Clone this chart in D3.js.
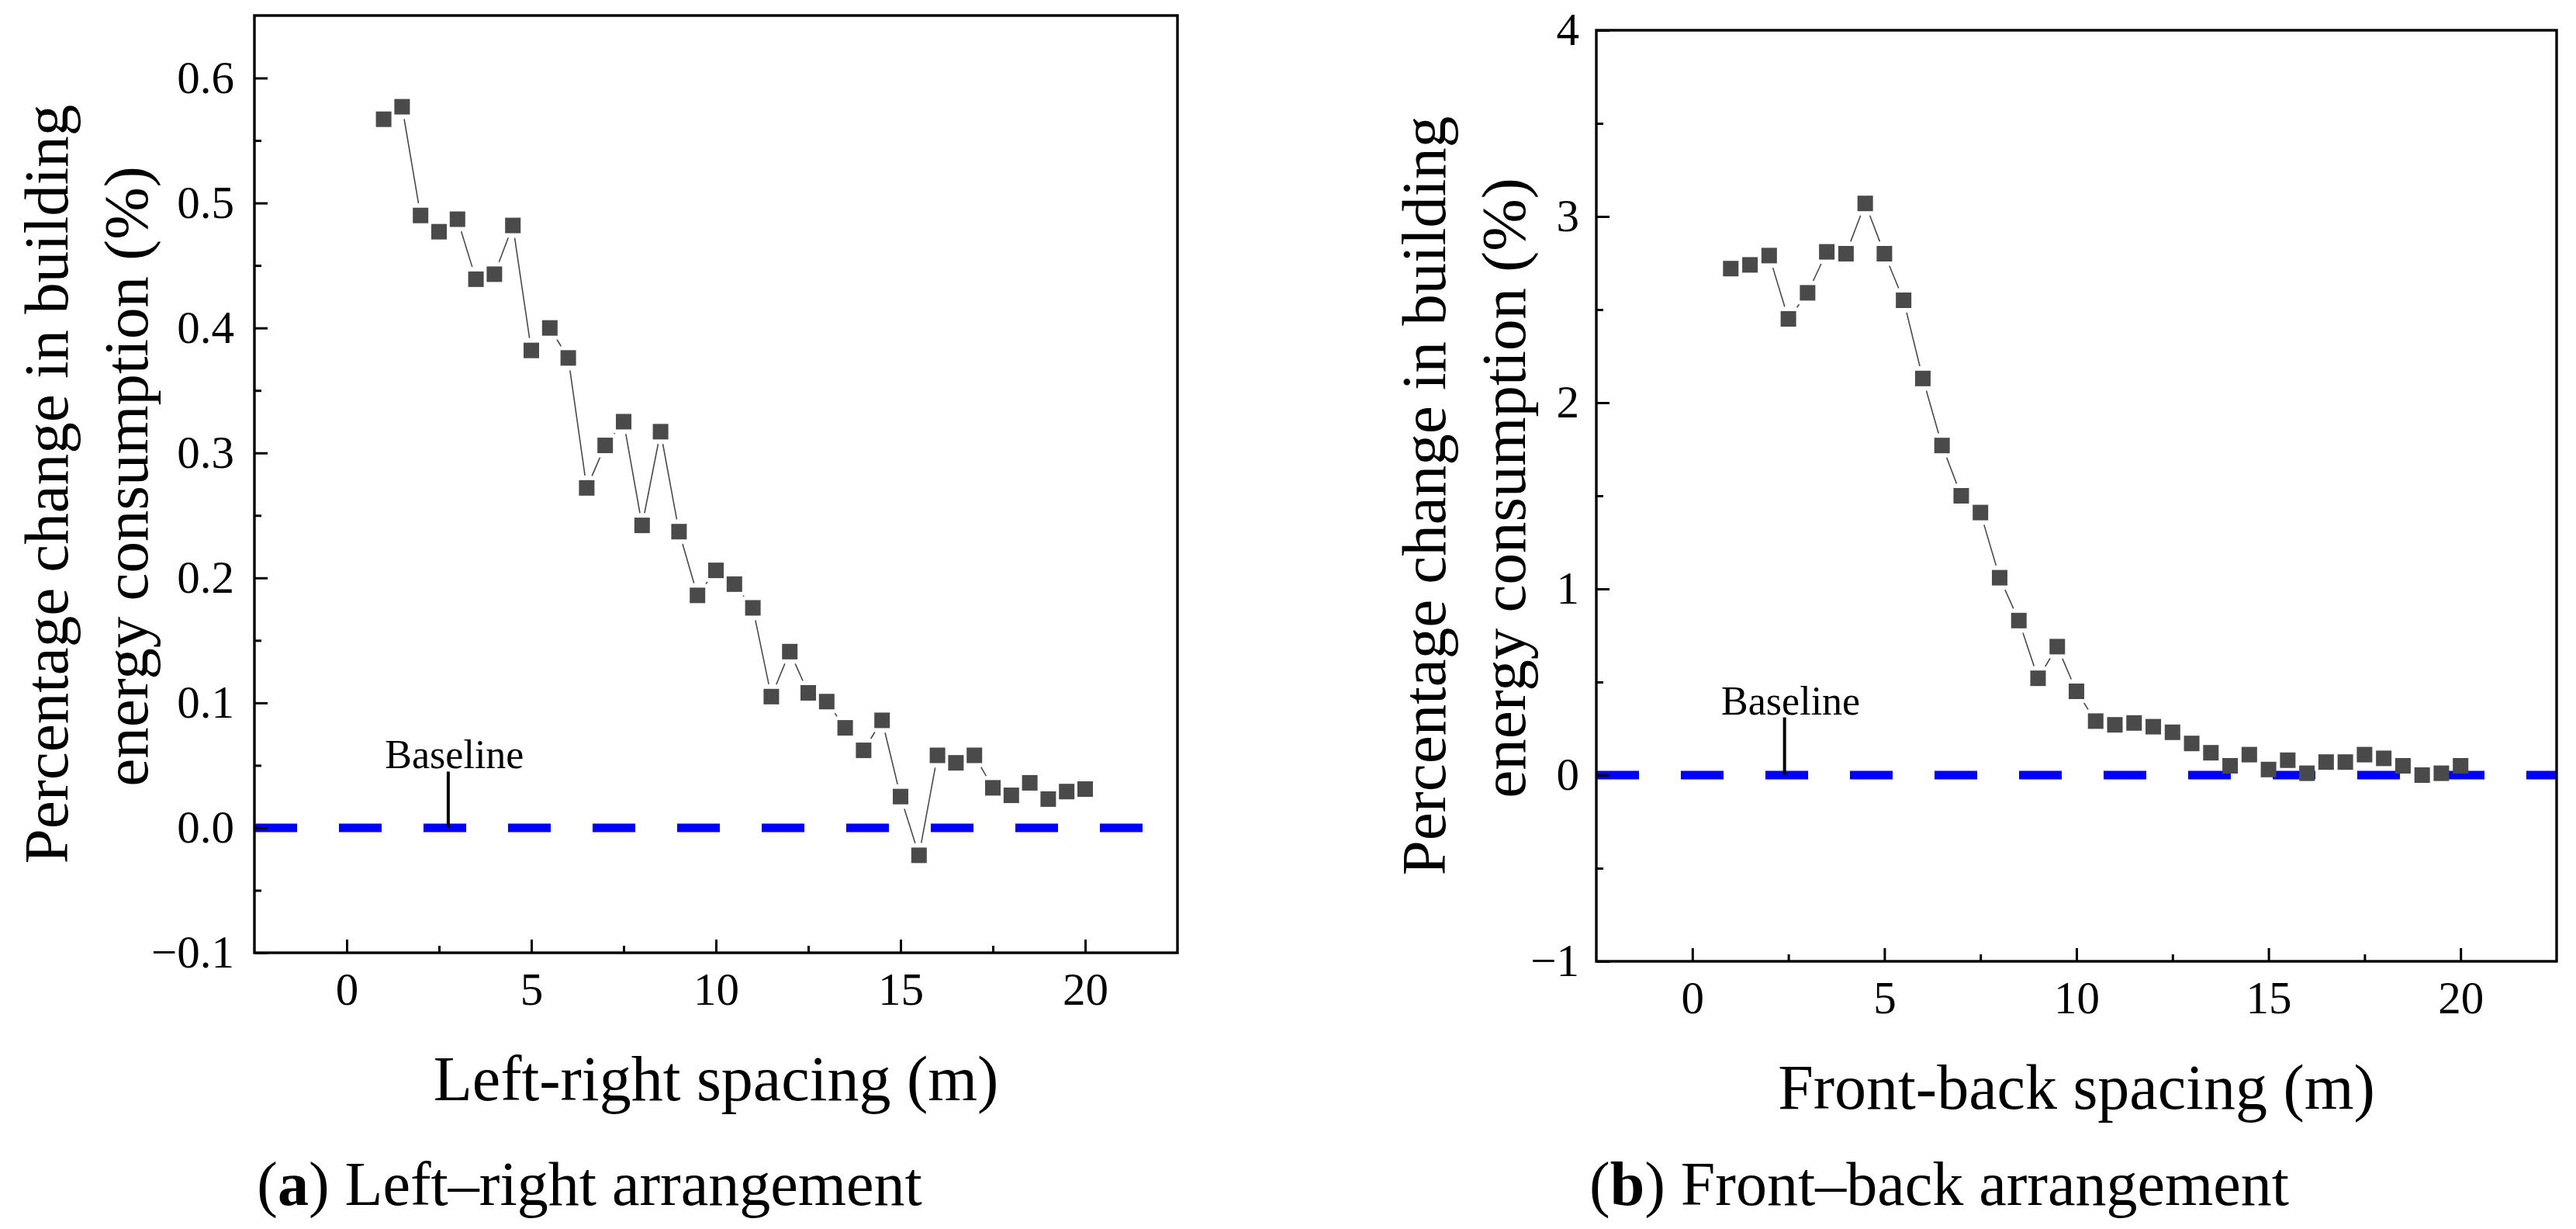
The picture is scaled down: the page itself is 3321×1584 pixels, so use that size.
<!DOCTYPE html>
<meta charset="utf-8">
<style>
    body { margin: 0; background: #fff; }
    svg { display: block; font-family: "Liberation Serif", "Times New Roman", serif; }
    .frame { fill: none; stroke: #000; stroke-width: 3.4px; }
    .tick line { stroke: #000; stroke-width: 3px; }
    .tick text { fill: #000; }
</style>
<svg width="3321" height="1584"></svg>
<script src="https://d3js.org/d3.v7.min.js"></script>
<script>
    // spacing (m) at which each case was simulated
    var spacing = [1, 1.5, 2, 2.5, 3, 3.5, 4, 4.5, 5, 5.5, 6, 6.5, 7, 7.5, 8, 8.5, 9, 9.5, 10, 10.5,
        11, 11.5, 12, 12.5, 13, 13.5, 14, 14.5, 15, 15.5, 16, 16.5, 17, 17.5, 18, 18.5, 19, 19.5, 20];

    // (a) left-right arrangement, % change
    var leftRight = [0.567, 0.577, 0.490, 0.477, 0.487, 0.439, 0.443, 0.482, 0.382, 0.400,
        0.376, 0.272, 0.306, 0.325, 0.242, 0.317, 0.237, 0.186, 0.206, 0.195,
        0.176, 0.105, 0.141, 0.108, 0.101, 0.080, 0.062, 0.086, 0.025, -0.022,
        0.058, 0.052, 0.058, 0.032, 0.026, 0.036, 0.023, 0.029, 0.031];

    // (b) front-back arrangement, % change
    var frontBack = [2.72, 2.74, 2.79, 2.45, 2.59, 2.81, 2.80, 3.07, 2.80, 2.55,
        2.13, 1.77, 1.50, 1.41, 1.06, 0.83, 0.52, 0.69, 0.45, 0.29,
        0.27, 0.28, 0.26, 0.23, 0.17, 0.12, 0.05, 0.11, 0.03, 0.08,
        0.01, 0.07, 0.07, 0.11, 0.09, 0.05, 0.00, 0.01, 0.05];

    var xTicks = [0, 5, 10, 15, 20];
    var xMinor = [-2.5, 2.5, 7.5, 12.5, 17.5, 22.5];
    var yTicksA = [-0.1, 0, 0.1, 0.2, 0.3, 0.4, 0.5, 0.6];
    var yMinorA = [-0.05, 0.05, 0.15, 0.25, 0.35, 0.45, 0.55, 0.65];
    var yTicksB = [-1, 0, 1, 2, 3, 4];
    var yMinorB = [-0.5, 0.5, 1.5, 2.5, 3.5];

    var svg = d3.select("svg");
    svg.append("rect").attr("width", 3321).attr("height", 1584).attr("fill", "#fff");

    var panels = [
        {
            values: leftRight, xDomain: [-2.5, 22.5], yDomain: [-0.1, 0.65],
            left: 328, right: 1518, top: 20, bottom: 1228,
            yTicks: yTicksA, yMinor: yMinorA, yFmt: d3.format(".1f"), yPad: 26,
            xTitle: "Left-right spacing (m)", yTitleX: [87, 190],
            tag: "a", caption: " Left\u2013right arrangement", captionX: 760,
            note: { x: 2.75, y: 0.045 }
        },
        {
            values: frontBack, xDomain: [-2.5, 22.5], yDomain: [-1, 4],
            left: 2058, right: 3296, top: 39, bottom: 1239,
            yTicks: yTicksB, yMinor: yMinorB, yFmt: d3.format("d"), yPad: 22,
            xTitle: "Front-back spacing (m)", yTitleX: [1863, 1966],
            tag: "b", caption: " Front\u2013back arrangement", captionX: 2500,
            note: { x: 2.4, y: 0.31 }
        }
    ];

    // axis helper: drop the domain path and use the page's serif font
    function tidy(s) {
        s.select(".domain").remove();
        s.attr("font-size", 59).attr("font-family", null);
    }

    panels.forEach(function (p) {
        var x = d3.scaleLinear().domain(p.xDomain).range([p.left, p.right]);
        var y = d3.scaleLinear().domain(p.yDomain).range([p.bottom, p.top]);
        var g = svg.append("g");

        // blue dashed baseline at 0
        g.append("line")
            .attr("x1", x(p.xDomain[0])).attr("x2", x(p.xDomain[1]))
            .attr("y1", y(0)).attr("y2", y(0))
            .attr("stroke", "#0000ff")
            .attr("stroke-width", 11)
            .attr("stroke-dasharray", "55 54");

        // x axis (major + minor, ticks pointing in)
        g.append("g")
            .attr("transform", "translate(0," + p.bottom + ")")
            .call(d3.axisBottom(x).tickValues(xTicks).tickSize(-17).tickPadding(25))
            .call(tidy);
        g.append("g")
            .attr("transform", "translate(0," + p.bottom + ")")
            .call(d3.axisBottom(x).tickValues(xMinor.filter(function (v) { return v > p.xDomain[0] && v < p.xDomain[1]; }))
                .tickSize(-9).tickFormat(""))
            .call(tidy);

        // y axis
        g.append("g")
            .attr("transform", "translate(" + p.left + ",0)")
            .call(d3.axisLeft(y).tickValues(p.yTicks).tickSize(-17).tickPadding(p.yPad).tickFormat(p.yFmt))
            .call(tidy);
        g.append("g")
            .attr("transform", "translate(" + p.left + ",0)")
            .call(d3.axisLeft(y).tickValues(p.yMinor.filter(function (v) { return v > p.yDomain[0] && v < p.yDomain[1]; }))
                .tickSize(-9).tickFormat(""))
            .call(tidy);

        g.append("rect").attr("class", "frame")
            .attr("x", p.left).attr("y", p.top)
            .attr("width", p.right - p.left).attr("height", p.bottom - p.top);

        // connecting line, broken around each marker
        var pts = spacing.map(function (s, i) { return [x(s), y(p.values[i])]; });
        var half = 10, gap = 6;
        for (var i = 0; i < pts.length - 1; i++) {
            var a = pts[i], b = pts[i + 1];
            var dx = b[0] - a[0], dy = b[1] - a[1], len = Math.hypot(dx, dy);
            var ux = dx / len, uy = dy / len;
            var cut = half / Math.max(Math.abs(ux), Math.abs(uy)) + gap;
            if (len <= 2 * cut) continue;
            g.append("line")
                .attr("x1", a[0] + ux * cut).attr("y1", a[1] + uy * cut)
                .attr("x2", b[0] - ux * cut).attr("y2", b[1] - uy * cut)
                .attr("stroke", "#4a4a4a").attr("stroke-width", 1.6);
        }

        g.selectAll("rect.pt")
            .data(p.values)
            .enter().append("rect")
            .attr("class", "pt")
            .attr("x", function (d, i) { return x(spacing[i]) - half; })
            .attr("y", function (d) { return y(d) - half; })
            .attr("width", half * 2).attr("height", half * 2)
            .attr("fill", "#4a4a4a");

        // "Baseline" pointer
        g.append("line")
            .attr("x1", x(p.note.x)).attr("x2", x(p.note.x))
            .attr("y1", y(p.note.y)).attr("y2", y(0))
            .attr("stroke", "#000").attr("stroke-width", 4);
        g.append("text")
            .attr("x", x(p.note.x) + 8).attr("y", y(p.note.y) - 4)
            .attr("text-anchor", "middle")
            .attr("font-size", 52)
            .text("Baseline");

        // axis titles
        g.append("text")
            .attr("x", (p.left + p.right) / 2).attr("y", p.bottom + 190)
            .attr("text-anchor", "middle").attr("font-size", 82)
            .text(p.xTitle);

        var cy = (p.top + p.bottom) / 2;
        ["Percentage change in building", "energy consumption (%)"].forEach(function (t, k) {
            g.append("text")
                .attr("transform", "translate(" + p.yTitleX[k] + "," + (cy - k * 10) + ")rotate(-90)")
                .attr("text-anchor", "middle").attr("font-size", 81)
                .text(t);
        });

        var cap = g.append("text")
            .attr("x", p.captionX).attr("y", 1553)
            .attr("text-anchor", "middle").attr("font-size", 80);
        cap.append("tspan").text("(");
        cap.append("tspan").attr("font-weight", "bold").text(p.tag);
        cap.append("tspan").text(")" + p.caption);
    });
</script>
